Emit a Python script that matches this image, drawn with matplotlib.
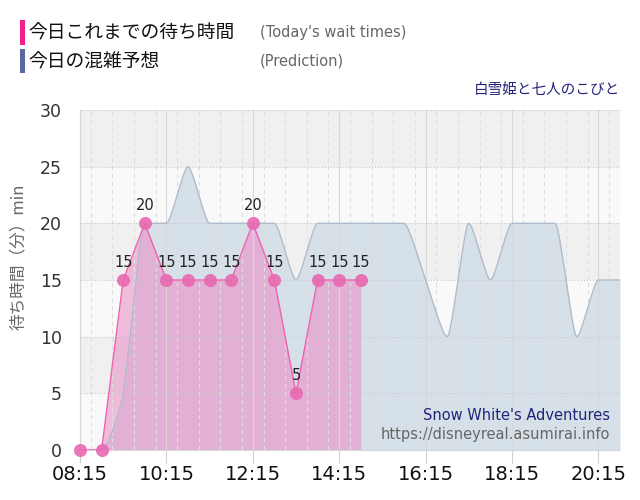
import numpy as np
import matplotlib
matplotlib.use("Agg")
import matplotlib.pyplot as plt
from matplotlib.patches import Rectangle
from matplotlib.ticker import FuncFormatter, MultipleLocator

plt.rcParams['font.family'] = ['DejaVu Sans', 'Noto Sans CJK JP']

# data: times in hours, every 30 min
actual_times = [8.25, 8.75, 9.25, 9.75, 10.25, 10.75, 11.25, 11.75, 12.25, 12.75, 13.25, 13.75, 14.25, 14.75]
actual_wait = [0, 0, 15, 20, 15, 15, 15, 15, 20, 15, 5, 15, 15, 15]

pred_times = [8.25, 8.75, 9.25, 9.75, 10.25, 10.75, 11.25, 11.75, 12.25, 12.75, 13.25, 13.75, 14.25,
              14.75, 15.25, 15.75, 16.25, 16.75, 17.25, 17.75, 18.25, 18.75, 19.25, 19.75, 20.25, 20.75]
pred_wait = [0, 0, 5, 20, 20, 25, 20, 20, 20, 20, 15, 20, 20,
             20, 20, 20, 15, 10, 20, 15, 20, 20, 20, 10, 15, 15]

x_ticks = [8.25, 10.25, 12.25, 14.25, 16.25, 18.25, 20.25]
y_ticks = [0, 5, 10, 15, 20, 25, 30]

title_jp = "白雪姫と七人のこびと"
title_en = "Snow White's Adventures"
site = "https://disneyreal.asumirai.info"


def spline(xs, ys, s=3.5, steps=30):
    # areaspline style curve (bezier with clamped control points)
    n = len(xs)
    lc = [(x, y) for x, y in zip(xs, ys)]
    rc = [(x, y) for x, y in zip(xs, ys)]
    d = s + 1
    for i in range(1, n - 1):
        px, py = xs[i], ys[i]
        lx, ly = xs[i - 1], ys[i - 1]
        nx, ny = xs[i + 1], ys[i + 1]
        lcx = (s * px + lx) / d
        lcy = (s * py + ly) / d
        rcx = (s * px + nx) / d
        rcy = (s * py + ny) / d
        if rcx != lcx:
            corr = (rcy - lcy) * (rcx - px) / (rcx - lcx) + py - rcy
            lcy += corr
            rcy += corr
        if lcy > ly and lcy > py:
            lcy = max(ly, py)
            rcy = 2 * py - lcy
        elif lcy < ly and lcy < py:
            lcy = min(ly, py)
            rcy = 2 * py - lcy
        if rcy > ny and rcy > py:
            rcy = max(ny, py)
            lcy = 2 * py - rcy
        elif rcy < ny and rcy < py:
            rcy = min(ny, py)
            lcy = 2 * py - rcy
        lc[i] = (lcx, lcy)
        rc[i] = (rcx, rcy)
    t = np.linspace(0, 1, steps)[:, None]
    pts = [np.array([[xs[0], ys[0]]])]
    for i in range(1, n):
        p0 = np.array([xs[i - 1], ys[i - 1]])
        p1 = np.array(rc[i - 1])
        p2 = np.array(lc[i])
        p3 = np.array([xs[i], ys[i]])
        b = ((1 - t) ** 3) * p0 + 3 * ((1 - t) ** 2) * t * p1 + 3 * (1 - t) * t ** 2 * p2 + t ** 3 * p3
        pts.append(b[1:])
    pts = np.vstack(pts)
    return pts[:, 0], pts[:, 1]


fig = plt.figure(figsize=(6.4, 5.0), dpi=100)
ax = fig.add_axes([80 / 640, 50 / 500, 540 / 640, 340 / 500])
ax.set_xlim(8.25, 20.75)
ax.set_ylim(0, 30)
ax.set_facecolor('#f9f9f9')

# alternating bands
for lo in [5, 15, 25]:
    ax.axhspan(lo, lo + 5, color='#f0f0f0', zorder=0, lw=0)

# prediction
sx, sy = spline(pred_times, pred_wait)
ax.fill_between(sx, sy, 0, color='#d6e0e8', lw=0, zorder=1)
ax.plot(sx, sy, color='#b0bccb', lw=1, zorder=3)

# actual
ax.fill_between(actual_times, actual_wait, 0, color='#ea8cc6', alpha=0.56, lw=0, zorder=2)
ax.plot(actual_times, actual_wait, color='#f060b0', lw=1, zorder=4)
ax.plot(actual_times, actual_wait, 'o', ms=9.4, color='#e868b0', alpha=0.9, mew=0, zorder=5, clip_on=False)
for x, y in zip(actual_times[2:], actual_wait[2:]):
    ax.annotate(str(y), (x, y), xytext=(0, 12.5), textcoords='offset points',
                ha='center', va='center', fontsize=10.5, color='#222222', zorder=6)

# grid
ax.xaxis.set_minor_locator(MultipleLocator(0.5))
ax.grid(which='minor', axis='x', color='#dedede', ls=(0, (4, 3)), lw=0.8, zorder=2.5)
ax.grid(which='major', axis='x', color='#d8d8d8', lw=0.8, zorder=2.5)
ax.grid(which='major', axis='y', color='#c8c8c8', ls=':', lw=0.8, zorder=2.5)
ax.set_axisbelow(False)

ax.set_xticks(x_ticks)
ax.xaxis.set_major_formatter(FuncFormatter(lambda v, p: "%02d:%02d" % (int(v), round((v % 1) * 60))))
ax.set_yticks(y_ticks)
ax.tick_params(axis='x', which='major', length=9.5, color='#d0d0d0', labelsize=14, pad=1, labelcolor='#111111')
ax.tick_params(axis='x', which='minor', length=0)
ax.tick_params(axis='y', length=0, labelsize=12.5, pad=13, labelcolor='#333333')

for sp in ['top', 'right']:
    ax.spines[sp].set_visible(False)
ax.spines['left'].set_color('#c0c0cc')
ax.spines['bottom'].set_color('#d8d8d8')

ax.text(1 - 10 / 540, 35 / 340, title_en, transform=ax.transAxes, ha='right', va='center',
        fontsize=10.5, color='#23237a', zorder=7)
ax.text(1 - 10 / 540, 15 / 340, site, transform=ax.transAxes, ha='right', va='center',
        fontsize=10.5, color='#666666', zorder=7)


def fx(px):
    return px / 640


def fy(py):
    return 1 - py / 500


fig.patches.append(Rectangle((fx(20), fy(45)), 5 / 640, 25 / 500, transform=fig.transFigure,
                             color='#f0208c', lw=0))
fig.patches.append(Rectangle((fx(20), fy(73)), 5 / 640, 24 / 500, transform=fig.transFigure,
                             color='#5a6a9c', lw=0))
jp = ['Noto Sans CJK JP', 'DejaVu Sans']
fig.text(fx(28), fy(33), "今日これまでの待ち時間", family=jp, fontsize=13.5, color='#111111', va='center')
fig.text(fx(28), fy(62), "今日の混雑予想", family=jp, fontsize=13.5, color='#111111', va='center')
fig.text(fx(260), fy(32), "(Today's wait times)", fontsize=10.5, color='#666666', va='center')
fig.text(fx(260), fy(61), "(Prediction)", fontsize=10.5, color='#666666', va='center')
fig.text(fx(620), fy(90), title_jp, family=jp, fontsize=10.5, color='#23237a', ha='right', va='center')
fig.text(fx(18), fy(257), "待ち時間（分）min", family=jp, fontsize=12, color='#666666',
         rotation=90, ha='center', va='center')

fig.savefig('out.png', dpi=100)
